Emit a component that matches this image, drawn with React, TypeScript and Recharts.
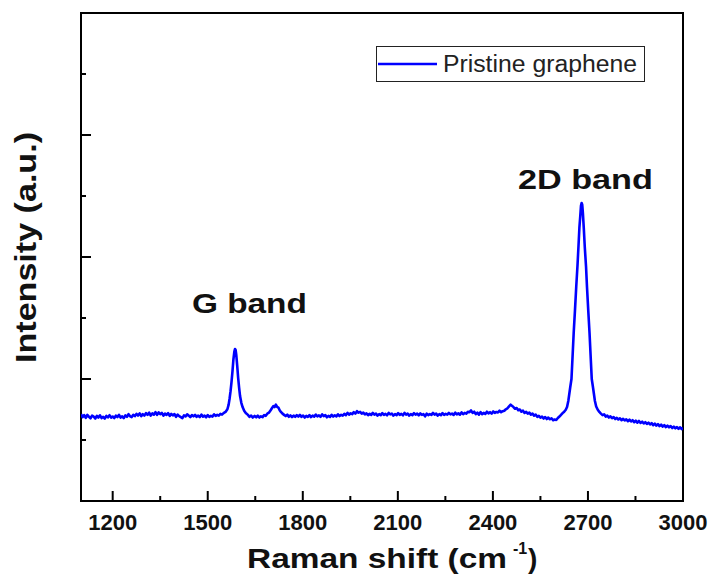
import React from 'react';
import { LineChart, Line, XAxis, YAxis, ReferenceArea, ReferenceDot, Legend } from 'recharts';

// Raman spectrum: [Raman shift (cm-1), intensity (a.u.)]
const spectrum: [number, number][] = [
  [1100, 712], [1105, 688], [1110, 704], [1115, 682], [1120, 706], [1125, 690], [1130, 678], [1135, 700],
  [1140, 692], [1145, 676], [1150, 698], [1155, 684], [1160, 702], [1165, 680], [1170, 690], [1175, 676],
  [1180, 697], [1185, 686], [1190, 703], [1195, 684], [1200, 692], [1205, 680], [1210, 700], [1215, 688],
  [1220, 706], [1225, 684], [1230, 694], [1235, 680], [1240, 702], [1245, 690], [1250, 712], [1255, 694],
  [1260, 688], [1265, 706], [1270, 696], [1275, 714], [1280, 700], [1285, 718], [1290, 696], [1295, 712],
  [1300, 700], [1305, 720], [1310, 706], [1315, 724], [1320, 700], [1325, 718], [1330, 708], [1335, 728],
  [1340, 706], [1345, 726], [1350, 712], [1355, 722], [1360, 700], [1365, 716], [1370, 706], [1375, 720],
  [1380, 698], [1385, 714], [1390, 702], [1395, 712], [1400, 690], [1405, 708], [1410, 696], [1415, 688],
  [1420, 680], [1425, 702], [1430, 694], [1435, 710], [1440, 700], [1445, 688], [1450, 704], [1455, 694],
  [1460, 706], [1465, 690], [1470, 700], [1475, 688], [1480, 708], [1485, 692], [1490, 700], [1495, 686],
  [1500, 704], [1505, 690], [1510, 698], [1515, 692], [1520, 710], [1525, 698], [1530, 706], [1535, 700],
  [1540, 714], [1545, 708], [1550, 720], [1556, 730], [1562, 752],
  [1566, 790], [1569, 840], [1572, 900], [1575, 975], [1578, 1060], [1581, 1160], [1584, 1225], [1586, 1246],
  [1588, 1238], [1590, 1200], [1593, 1110], [1596, 1010], [1599, 930], [1602, 860], [1606, 805], [1610, 770],
  [1615, 740], [1620, 722], [1626, 708], [1632, 690], [1637, 700], [1642, 684], [1648, 698], [1653, 686],
  [1658, 700], [1663, 684], [1668, 694], [1673, 688], [1678, 704], [1683, 698], [1688, 716], [1693, 724],
  [1698, 742], [1703, 762], [1707, 778], [1711, 770], [1715, 790], [1719, 772], [1723, 766], [1727, 744],
  [1731, 730], [1736, 716], [1741, 706], [1746, 696], [1751, 708], [1756, 690], [1761, 702], [1766, 688],
  [1771, 700], [1776, 690], [1781, 704], [1786, 692], [1791, 706], [1796, 690], [1801, 700], [1806, 684],
  [1811, 698], [1816, 690], [1821, 704], [1826, 688], [1831, 700], [1836, 692], [1841, 708], [1846, 694],
  [1851, 702], [1856, 690], [1861, 710], [1866, 696], [1871, 704], [1876, 686], [1881, 698], [1886, 690],
  [1891, 706], [1896, 692], [1901, 702], [1906, 694], [1911, 710], [1916, 696], [1921, 706], [1926, 700],
  [1931, 714], [1936, 704], [1941, 722], [1946, 708], [1951, 718], [1956, 712], [1961, 728], [1966, 716],
  [1971, 736], [1976, 724], [1981, 730], [1986, 716], [1991, 724], [1996, 710], [2001, 718], [2006, 704],
  [2011, 714], [2016, 706], [2021, 722], [2026, 708], [2031, 716], [2036, 700], [2041, 712], [2046, 704],
  [2051, 720], [2056, 706], [2061, 714], [2066, 702], [2071, 722], [2076, 710], [2081, 716], [2086, 700],
  [2091, 712], [2096, 704], [2101, 720], [2106, 706], [2111, 714], [2116, 702], [2121, 722], [2126, 708],
  [2131, 716], [2136, 700], [2141, 712], [2146, 704], [2151, 720], [2156, 708], [2161, 716], [2166, 702],
  [2171, 718], [2176, 706], [2181, 712], [2186, 694], [2191, 716], [2196, 704], [2201, 712], [2206, 706],
  [2211, 722], [2216, 708], [2221, 716], [2226, 700], [2231, 712], [2236, 704], [2241, 720], [2246, 706],
  [2251, 714], [2256, 708], [2261, 722], [2266, 710], [2271, 716], [2276, 706], [2281, 724], [2286, 710],
  [2291, 718], [2296, 708], [2301, 726], [2306, 712], [2311, 722], [2316, 716], [2321, 732], [2326, 728],
  [2331, 742], [2336, 722], [2341, 732], [2346, 712], [2351, 724], [2356, 708], [2361, 728], [2366, 712],
  [2371, 722], [2376, 714], [2381, 732], [2386, 718], [2391, 728], [2396, 716], [2401, 734], [2406, 722],
  [2411, 730], [2416, 726], [2421, 740], [2426, 728], [2431, 736], [2436, 740], [2441, 752], [2446, 760],
  [2451, 776], [2456, 790], [2460, 780], [2465, 770], [2470, 756], [2475, 762], [2480, 744], [2485, 750],
  [2490, 732], [2495, 740], [2500, 722], [2505, 730], [2510, 716], [2515, 724], [2520, 708], [2525, 716],
  [2530, 700], [2535, 708], [2540, 690], [2545, 698], [2550, 684], [2555, 692], [2560, 676], [2565, 688],
  [2570, 672], [2575, 684], [2580, 670], [2585, 678], [2590, 662], [2595, 668], [2600, 664], [2605, 680],
  [2610, 692], [2615, 706], [2620, 720], [2625, 732], [2630, 748], [2634, 770], [2638, 820], [2641, 875],
  [2644, 930], [2648, 1000], [2651, 1160], [2655, 1377], [2659, 1560], [2663, 1754], [2667, 1930], [2670, 2082],
  [2673, 2240], [2676, 2344], [2678, 2420], [2680, 2443], [2682, 2428], [2684, 2361], [2687, 2230], [2690, 2082],
  [2694, 1920], [2697, 1754], [2701, 1560], [2705, 1377], [2709, 1160], [2712, 1000], [2716, 930], [2719, 875],
  [2722, 820], [2726, 775], [2731, 748], [2736, 730], [2741, 716], [2746, 704], [2751, 710], [2756, 692],
  [2761, 700], [2766, 684], [2771, 694], [2776, 680], [2781, 688], [2786, 672], [2791, 682], [2796, 668],
  [2801, 678], [2806, 662], [2811, 674], [2816, 660], [2821, 670], [2826, 654], [2831, 666], [2836, 652],
  [2841, 662], [2846, 646], [2851, 658], [2856, 642], [2861, 656], [2866, 640], [2871, 650], [2876, 636],
  [2881, 646], [2886, 632], [2891, 642], [2896, 628], [2901, 638], [2906, 622], [2911, 634], [2916, 618],
  [2921, 630], [2926, 614], [2931, 626], [2936, 610], [2941, 622], [2946, 606], [2951, 618], [2956, 604],
  [2961, 614], [2966, 598], [2971, 610], [2976, 596], [2981, 606], [2986, 592], [2991, 604], [2996, 590],
  [3000, 600],
];

const xDomain: [number, number] = [1100, 3000];
const yDomain: [number, number] = [0, 4000];
const xTicks = [1200, 1350, 1500, 1650, 1800, 1950, 2100, 2250, 2400, 2550, 2700, 2850, 3000];
const xMajorTicks = [1200, 1500, 1800, 2100, 2400, 2700, 3000];
const yTicks = [500, 1000, 1500, 2000, 2500, 3000, 3500];
const yMajorTicks = [1000, 2000, 3000];

const seriesName = 'Pristine graphene';
const xTitle = 'Raman shift (cm';
const xTitleSup = '-1';
const yTitle = 'Intensity (a.u.)';
// annotation anchors in data units (left end of text baseline)
const annotationText = ['G band', '2D band'];
const annotationShift = [1450, 2479];
const annotationLevel = [1541, 2557];
const annotationWidth = [115, 135];

const data = spectrum.map(([shift, intensity]) => ({ shift, intensity }));

const FONT = '"Liberation Sans", Arial, Helvetica, sans-serif';
const BLUE = '#0000ff';

const XTick = (props: any) => {
  const { x, y, payload } = props;
  const major = xMajorTicks.includes(payload.value);
  return (
    <g>
      <line x1={x} x2={x} y1={y} y2={y - (major ? 10 : 5)} stroke="#000" strokeWidth={2} />
      {major && (
        <text x={x} y={y + 29} textAnchor="middle" fontSize={22} fontWeight="bold" fontFamily={FONT} fill="#111">
          {payload.value}
        </text>
      )}
    </g>
  );
};

const YTick = (props: any) => {
  const { x, y, payload } = props;
  const major = yMajorTicks.includes(payload.value);
  return <line x1={x} x2={x + (major ? 10 : 5)} y1={y} y2={y} stroke="#000" strokeWidth={2} />;
};

const XTitle = (props: any) => {
  const vb = props.viewBox || { x: 81, y: 501, width: 602 };
  const start = vb.x + 166;
  const base = vb.y + 67;
  return (
    <g fontFamily={FONT} fontWeight="bold" fill="#111">
      <text x={start} y={base} fontSize={28} textLength={260} lengthAdjust="spacingAndGlyphs">{xTitle}</text>
      <text x={start + 266} y={base - 14} fontSize={16}>{xTitleSup}</text>
      <text x={start + 281} y={base} fontSize={28}>)</text>
    </g>
  );
};

const YTitle = (props: any) => {
  const vb = props.viewBox || { x: 61, y: 13, height: 488 };
  const cy = vb.y + 234.5;
  return (
    <text
      transform="rotate(-90)"
      x={-(cy + 115.5)}
      y={36}
      fontSize={29}
      fontWeight="bold"
      fontFamily={FONT}
      fill="#111"
      textLength={231}
      lengthAdjust="spacingAndGlyphs"
    >
      {yTitle}
    </text>
  );
};

const LegendBox = () => (
  <svg width={270} height={37} style={{ display: 'block' }}>
    <rect x={0.5} y={0.5} width={268} height={35} fill="#fff" stroke="#222" strokeWidth={1} />
    <line x1={2} x2={61} y1={18} y2={18} stroke={BLUE} strokeWidth={2.5} />
    <text x={67} y={26} fontSize={23} fontFamily={FONT} fill="#222" textLength={194} lengthAdjust="spacingAndGlyphs">
      {seriesName}
    </text>
  </svg>
);

export default function App() {
  return (
    <div style={{ position: 'absolute', left: 0, top: 0, width: 714, height: 582, background: '#fff' }}>
      <LineChart width={714} height={582} data={data} margin={{ top: 13, right: 31, bottom: 51, left: 61 }}>
        <XAxis
          type="number"
          dataKey="shift"
          domain={xDomain}
          ticks={xTicks}
          interval={0}
          height={30}
          axisLine={false}
          tickLine={false}
          tickSize={0}
          tickMargin={0}
          tick={<XTick />}
          allowDataOverflow
          label={<XTitle />}
        />
        <YAxis
          type="number"
          domain={yDomain}
          ticks={yTicks}
          interval={0}
          width={20}
          axisLine={false}
          tickLine={false}
          tickSize={0}
          tickMargin={0}
          tick={<YTick />}
          allowDataOverflow
          label={<YTitle />}
        />
        <ReferenceArea x1={xDomain[0]} x2={xDomain[1]} y1={yDomain[0]} y2={yDomain[1]} fill="none" fillOpacity={0} stroke="#000" strokeWidth={2} />
        <Line
          type="linear"
          dataKey="intensity"
          name={seriesName}
          stroke={BLUE}
          strokeWidth={2.6}
          strokeLinejoin="round"
          dot={false}
          isAnimationActive={false}
        />
        {annotationText.map((t, i) => (
          <ReferenceDot
            key={t}
            x={annotationShift[i]}
            y={annotationLevel[i]}
            r={0}
            fill="none"
            stroke="none"
            label={(p: any) => (
              <text
                x={p.viewBox.x}
                y={p.viewBox.y}
                fontSize={28}
                fontWeight="bold"
                fontFamily={FONT}
                fill="#111"
                textLength={annotationWidth[i]}
                lengthAdjust="spacingAndGlyphs"
              >
                {t}
              </text>
            )}
          />
        ))}
        <Legend
          layout="vertical"
          align="center"
          verticalAlign="middle"
          content={() => <LegendBox />}
          wrapperStyle={{ position: 'absolute', left: 376, top: 46, width: 270, height: 37 }}
        />
      </LineChart>
    </div>
  );
}
